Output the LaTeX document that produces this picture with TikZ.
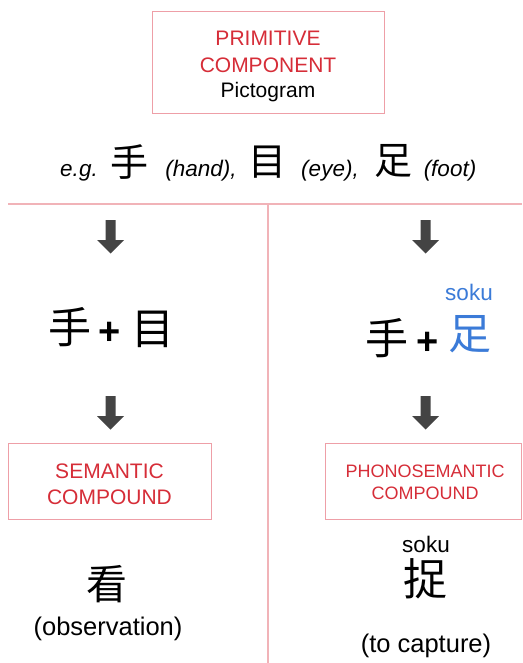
\documentclass[tikz,border=0pt]{standalone}
\usepackage{fontspec}
\setmainfont{Liberation Sans}
\newfontfamily\cjk{Noto Sans CJK JP}
\definecolor{redc}{HTML}{D62D38}
\definecolor{boxc}{HTML}{EE9FA7}
\definecolor{linec}{HTML}{F1B3B8}
\definecolor{bluec}{HTML}{3B7BD8}
\definecolor{arrc}{HTML}{444444}
\tikzset{
  redbox/.style={draw=boxc, line width=1pt, inner sep=0pt},
  rtxt/.style={text=redc, font=\fontsize{21}{25}\selectfont, anchor=base, inner sep=0pt},
  rtxts/.style={text=redc, font=\fontsize{18}{22}\selectfont, anchor=base, inner sep=0pt},
  btxt/.style={text=black, font=\fontsize{21}{25}\selectfont, anchor=base, inner sep=0pt},
  itxt/.style={text=black, font=\fontsize{22.5}{27}\selectfont\itshape, anchor=base, inner sep=0pt},
  ptxt/.style={text=black, font=\fontsize{25.5}{30}\selectfont, anchor=base, inner sep=0pt},
  sokutxt/.style={font=\fontsize{22.5}{27}\selectfont, anchor=base, inner sep=0pt},
  kanji/.style={font=\fontsize{#1}{#1}\selectfont\cjk, anchor=center, inner sep=0pt},
  plustxt/.style={font=\fontsize{38}{40}\selectfont\bfseries, anchor=center, inner sep=0pt},
  divider/.style={draw=linec, line width=1.3pt},
  downarrow/.pic={\fill[arrc] (-5,0) -- (5,0) -- (5,20) -- (13.5,20) -- (0,33.5) -- (-13.5,20) -- (-5,20) -- cycle;}
}
\begin{document}
\begin{tikzpicture}[x=1pt,y=-1pt]
\fill[white] (0,0) rectangle (522,663);
\useasboundingbox (0,0) rectangle (522,663);

% top box
\node[redbox, minimum width=232pt, minimum height=102pt] (prim) at (268,63) {};
\node[rtxt] (primA) at (268,46) {PRIMITIVE};
\node[rtxt] (primB) at (268,72.5) {COMPONENT};
\node[btxt] (primC) at (268,97.5) {Pictogram};

% example line
\node[itxt] (eg) at (79,176) {e.g.};
\node[kanji=38] (egA) at (129.5,162.5) {手};
\node[itxt] (egAt) at (201,176) {(hand),};
\node[kanji=38] (egB) at (267,162) {目};
\node[itxt] (egBt) at (330,176) {(eye),};
\node[kanji=38] (egC) at (393,161) {足};
\node[itxt] (egCt) at (450,176) {(foot)};

% dividers
\coordinate (hl) at (8,204);
\coordinate (hr) at (522,204);
\coordinate (vt) at (268,204);
\coordinate (vb) at (268,663);
\draw[divider] (hl) -- (hr);
\draw[divider] (vt) -- (vb);

% arrows
\pic at (110.5,220) {downarrow};
\pic at (425.5,220) {downarrow};
\pic at (110.5,396) {downarrow};
\pic at (425.5,396) {downarrow};

% left combination
\node[kanji=43] (lA) at (69.5,327) {手};
\node[plustxt] (lP) at (110,333) {+};
\node[kanji=43] (lB) at (152.5,329) {目};

% right combination
\node[sokutxt, text=bluec] (rs) at (469,300) {soku};
\node[kanji=43] (rA) at (387,338) {手};
\node[plustxt] (rP) at (427.5,343) {+};
\node[kanji=43, text=bluec] (rB) at (470,334.5) {足};

% compound boxes
\node[redbox, minimum width=203pt, minimum height=76pt] (sem) at (109.5,481) {};
\node[rtxt] (semA) at (109.5,478) {SEMANTIC};
\node[rtxt] (semB) at (109.5,504) {COMPOUND};

\node[redbox, minimum width=196.5pt, minimum height=76pt] (pho) at (423.25,481) {};
\node[rtxts] (phoA) at (425,477.5) {PHONOSEMANTIC};
\node[rtxts] (phoB) at (425,499) {COMPOUND};

% results
\node[kanji=41] (kan) at (107,584) {看};
\node[ptxt] (kant) at (108,635) {(observation)};

\node[sokutxt] (ss) at (426,552) {soku};
\node[kanji=44] (zok) at (425.5,578.5) {捉};
\node[ptxt] (zokt) at (426,652) {(to capture)};
\end{tikzpicture}
\end{document}
